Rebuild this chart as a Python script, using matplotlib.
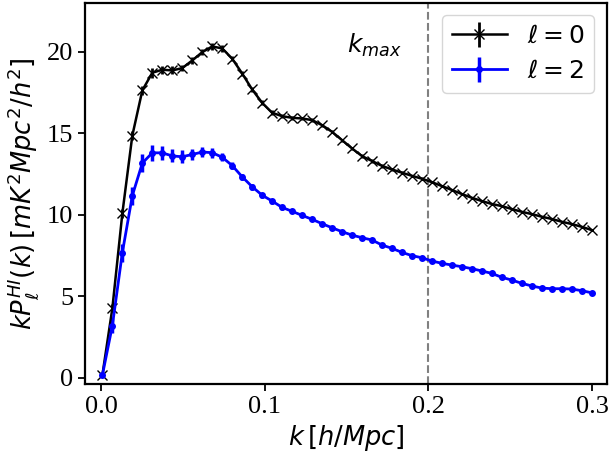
import numpy as np
import matplotlib
matplotlib.use('Agg')
import matplotlib.pyplot as plt

plt.rcParams['font.family'] = 'Liberation Serif'
plt.rcParams['mathtext.fontset'] = 'dejavusans'

# k bins [h/Mpc]
k = [0.0008, 0.0069, 0.0130, 0.0191, 0.0252, 0.0313, 0.0374, 0.0435, 0.0496, 0.0557,
     0.0618, 0.0679, 0.0740, 0.0801, 0.0862, 0.0923, 0.0984, 0.1045, 0.1106, 0.1167,
     0.1228, 0.1289, 0.1350, 0.1411, 0.1472, 0.1533, 0.1594, 0.1655, 0.1716, 0.1777,
     0.1838, 0.1899, 0.1960, 0.2021, 0.2082, 0.2143, 0.2204, 0.2265, 0.2326, 0.2387,
     0.2448, 0.2509, 0.2570, 0.2631, 0.2692, 0.2753, 0.2814, 0.2875, 0.2936, 0.2997]

# monopole k*P0
p0 = [0.15, 4.26, 10.08, 14.86, 17.63, 18.72, 18.90, 18.86, 19.00, 19.47,
      19.98, 20.33, 20.21, 19.58, 18.67, 17.69, 16.87, 16.26, 16.05, 15.95,
      15.91, 15.81, 15.50, 15.09, 14.58, 14.07, 13.60, 13.30, 13.00, 12.78,
      12.58, 12.39, 12.21, 12.00, 11.76, 11.52, 11.27, 11.04, 10.84, 10.66,
      10.53, 10.35, 10.18, 10.04, 9.88, 9.74, 9.57, 9.43, 9.26, 9.06]
p0_err = [0.10, 0.25, 0.30, 0.30, 0.30, 0.30, 0.25, 0.25, 0.20, 0.20,
          0.20, 0.20, 0.20, 0.15, 0.15, 0.15, 0.15, 0.15, 0.12, 0.12,
          0.12, 0.12, 0.10, 0.10, 0.10, 0.10, 0.10, 0.10, 0.10, 0.10,
          0.08, 0.08, 0.08, 0.08, 0.08, 0.08, 0.08, 0.08, 0.08, 0.08,
          0.07, 0.07, 0.07, 0.07, 0.07, 0.07, 0.07, 0.07, 0.07, 0.07]

# quadrupole k*P2
p2 = [0.15, 3.19, 7.67, 11.17, 13.17, 13.80, 13.80, 13.61, 13.56, 13.70,
      13.85, 13.81, 13.53, 13.02, 12.33, 11.72, 11.20, 10.84, 10.45, 10.21,
      9.96, 9.72, 9.45, 9.20, 8.96, 8.75, 8.59, 8.45, 8.14, 7.94,
      7.69, 7.49, 7.36, 7.16, 7.02, 6.91, 6.81, 6.69, 6.55, 6.40,
      6.16, 5.99, 5.79, 5.63, 5.50, 5.46, 5.46, 5.44, 5.34, 5.21]
p2_err = [0.10, 0.45, 0.55, 0.55, 0.55, 0.50, 0.45, 0.40, 0.40, 0.35,
          0.30, 0.30, 0.25, 0.20, 0.20, 0.18, 0.15, 0.15, 0.15, 0.12,
          0.12, 0.12, 0.10, 0.10, 0.10, 0.10, 0.10, 0.10, 0.10, 0.10,
          0.08, 0.08, 0.08, 0.08, 0.08, 0.08, 0.08, 0.08, 0.08, 0.08,
          0.07, 0.07, 0.07, 0.07, 0.07, 0.07, 0.07, 0.07, 0.07, 0.07]

k_max = 0.2

fig = plt.figure(figsize=(6.09, 4.63), dpi=100)
ax = fig.add_axes([0.1396, 0.1706, 0.857, 0.823])

ax.errorbar(k, p0, yerr=p0_err, fmt='x-', color='black', lw=1.8, elinewidth=2,
            markersize=7, label=r'$\ell=0$')
ax.errorbar(k, p2, yerr=p2_err, fmt='.-', color='blue', lw=2, elinewidth=2.5,
            markersize=8, label=r'$\ell=2$')
ax.axvline(k_max, color='gray', ls='--', lw=1.5)
ax.text(0.15, 20.4, r'$k_{max}$', fontsize=18, ha='left', va='center')

ax.set_xlim(-0.0098, 0.309)
ax.set_ylim(-0.39, 23.0)
ax.set_xticks([0.0, 0.1, 0.2, 0.3])
ax.set_yticks([0, 5, 10, 15, 20])
ax.tick_params(labelsize=19, width=1.3, length=5)
for s in ax.spines.values():
    s.set_linewidth(1.6)

ax.set_xlabel(r'$k\,[h/Mpc]$', fontsize=18.5)
ax.set_ylabel(r'$kP_\ell^{HI}(k)\,[mK^2Mpc^2/h^2]$', fontsize=18.5)
ax.legend(loc='upper right', fontsize=18, handlelength=2.2)

fig.savefig('out.png', dpi=100)
